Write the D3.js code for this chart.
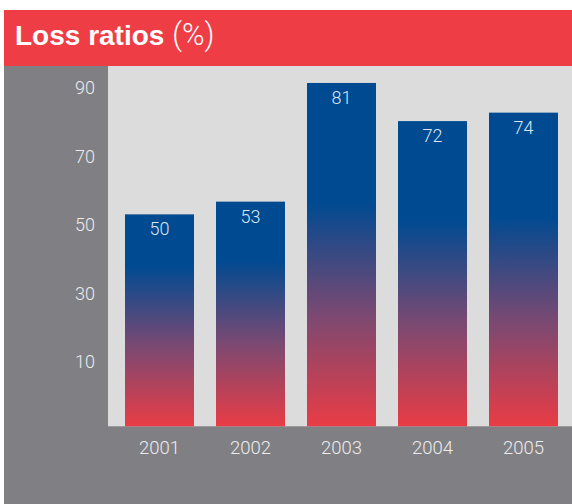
<!DOCTYPE html>
<html>
<head>
<meta charset="utf-8">
<script src="https://cdn.jsdelivr.net/npm/d3@7"></script>
<style>
  html, body { margin: 0; padding: 0; background: #ffffff; }
  svg { display: block; }
  text { font-family: "Liberation Sans", Arial, sans-serif; }
  .num { font-family: Roboto, "Liberation Sans", sans-serif; font-weight: 300; }
</style>
</head>
<body>
<svg id="chart" width="572" height="504"></svg>
<script>
// Loss ratios by year (%)
const years = ["2001", "2002", "2003", "2004", "2005"];
const lossRatios = [50, 53, 81, 72, 74];
const axisLabels = [10, 30, 50, 70, 90];
const titleMain = "Loss ratios";
const titleUnit = "(%)";

const W = 572, H = 504;
const svg = d3.select("#chart");

const frame = { left: 4, top: 10, headerBottom: 66 };
const plot = { left: 108, right: 572, top: 66, bottom: 426.3 };

const colors = {
  header: "#ef3d45",
  panel: "#807f83",
  plotBg: "#dcdcdc",
  blue: "#004a91",
  mid: "#7a4972",
  red: "#e93c45",
  text: "#ececee",
  barText: "#dde5f1"
};

// Scales
const x = d3.scaleBand()
  .domain(years)
  .range([114, 569])
  .paddingInner(22 / 91)
  .paddingOuter(11 / 91);

const y = d3.scaleLinear()
  .domain([0, 85])
  .range([plot.bottom, plot.top]);

// Axis labels sit on their own evenly spaced scale along the left panel
const yLabel = d3.scaleLinear()
  .domain([10, 90])
  .range([362, 88]);

// Background panels
svg.append("rect")
  .attr("x", frame.left).attr("y", frame.headerBottom)
  .attr("width", W - frame.left).attr("height", H - frame.headerBottom)
  .attr("fill", colors.panel);

svg.append("rect")
  .attr("x", frame.left).attr("y", frame.top)
  .attr("width", W - frame.left).attr("height", frame.headerBottom - frame.top)
  .attr("fill", colors.header);

svg.append("rect")
  .attr("x", plot.left).attr("y", plot.top)
  .attr("width", plot.right - plot.left).attr("height", plot.bottom - plot.top)
  .attr("fill", colors.plotBg);

// Title
const title = svg.append("text")
  .attr("x", 15).attr("y", 45)
  .attr("fill", "#ffffff")
  .attr("font-size", 28);
title.append("tspan").attr("font-weight", "bold").text(titleMain + " ");
title.append("tspan")
  .attr("font-family", "Roboto, 'Liberation Sans', sans-serif")
  .attr("font-weight", 300)
  .attr("font-size", 30.5)
  .text(titleUnit);

// Per-bar gradients: solid blue at the top, fading to red toward the baseline
const defs = svg.append("defs");
const data = years.map((yr, i) => ({ year: yr, value: lossRatios[i], i }));

data.forEach(d => {
  const h = y(0) - y(d.value);
  const fade = 56 + 0.49 * h;
  const g = defs.append("linearGradient")
    .attr("id", "grad" + d.i)
    .attr("gradientUnits", "userSpaceOnUse")
    .attr("x1", 0).attr("x2", 0)
    .attr("y1", y(0) - fade).attr("y2", y(0));
  g.append("stop").attr("offset", 0).attr("stop-color", colors.blue);
  g.append("stop").attr("offset", 0.5).attr("stop-color", colors.mid);
  g.append("stop").attr("offset", 1).attr("stop-color", colors.red);
});

// Bars
svg.append("g").selectAll("rect")
  .data(data)
  .join("rect")
  .attr("x", d => x(d.year))
  .attr("y", d => y(d.value))
  .attr("width", x.bandwidth())
  .attr("height", d => y(0) - y(d.value))
  .attr("fill", d => `url(#grad${d.i})`);

// Value labels inside bars
svg.append("g").selectAll("text")
  .data(data)
  .join("text")
  .attr("class", "num")
  .attr("x", d => x(d.year) + x.bandwidth() / 2)
  .attr("y", d => y(d.value) + 21)
  .attr("text-anchor", "middle")
  .attr("font-size", 18)
  .attr("fill", colors.barText)
  .text(d => d.value);

// Category labels
svg.append("g").selectAll("text")
  .data(years)
  .join("text")
  .attr("class", "num")
  .attr("x", d => x(d) + x.bandwidth() / 2)
  .attr("y", 454.3)
  .attr("text-anchor", "middle")
  .attr("font-size", 18.5)
  .attr("fill", colors.text)
  .text(d => d);

// Left axis labels
svg.append("g").selectAll("text")
  .data(axisLabels)
  .join("text")
  .attr("class", "num")
  .attr("x", 95)
  .attr("y", d => yLabel(d))
  .attr("dy", "0.36em")
  .attr("text-anchor", "end")
  .attr("font-size", 18)
  .attr("fill", colors.text)
  .text(d => d);
</script>
</body>
</html>
